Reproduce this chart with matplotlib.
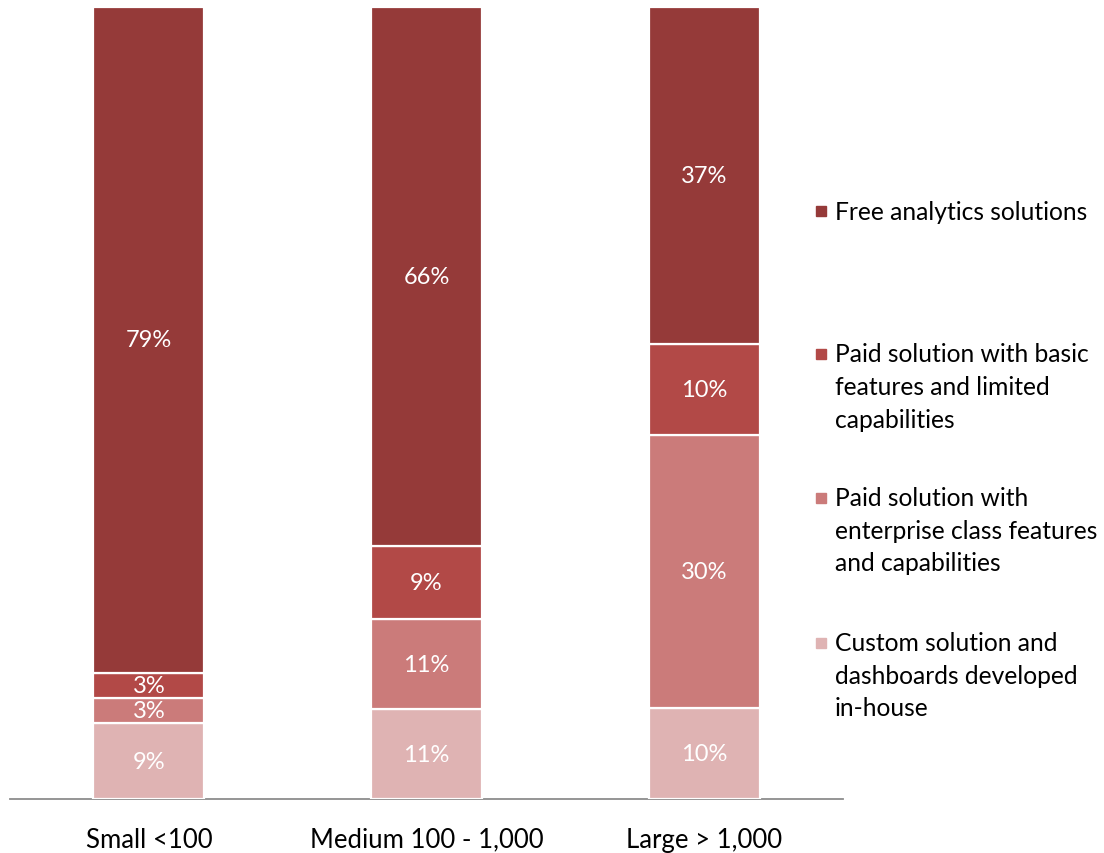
import matplotlib
matplotlib.use("Agg")
import matplotlib.pyplot as plt
from matplotlib.patches import Rectangle
import numpy as np

plt.rcParams['font.family'] = ['Lato', 'DejaVu Sans']

categories = ["Small <100", "Medium 100 - 1,000", "Large > 1,000"]
series_names = [
    "Custom solution and\ndashboards developed\nin-house",
    "Paid solution with\nenterprise class features\nand capabilities",
    "Paid solution with basic\nfeatures and limited\ncapabilities",
    "Free analytics solutions",
]
custom_inhouse = [9, 11, 10]
paid_enterprise = [3, 11, 30]
paid_basic = [3, 9, 10]
free_solutions = [79, 66, 37]
colors = ["#DFB3B3", "#CB7B7A", "#B24947", "#953A39"]

series = [custom_inhouse, paid_enterprise, paid_basic, free_solutions]
totals = np.sum(np.array(series, dtype=float), axis=0)

fig = plt.figure(figsize=(11.04, 8.54), dpi=100)
ax = fig.add_axes([10/1104, 1-800/854, (843-10)/1104, (800-8)/854])

x = np.arange(len(categories))
bottom = np.zeros(len(categories))
for vals, col in zip(series, colors):
    frac = np.array(vals, dtype=float) / totals
    ax.bar(x, frac, width=0.4, bottom=bottom, color=col,
           edgecolor="white", linewidth=1.6, zorder=3)
    for xi, b, f, v in zip(x, bottom, frac, vals):
        ax.text(xi, b + f/2, f"{v}%", ha="center", va="center",
                color="white", fontsize=17, zorder=4)
    bottom += frac

ax.set_xlim(-0.5, 2.5)
ax.set_ylim(0, 1)
for s in ["top", "right", "left"]:
    ax.spines[s].set_visible(False)
ax.spines["bottom"].set_color("#8c8c8c")
ax.spines["bottom"].set_linewidth(1.3)
ax.set_yticks([])
ax.set_xticks(x)
ax.set_xticklabels(categories, fontsize=18.5, color="black")
ax.tick_params(axis="x", length=0, pad=20)

# legend (manual, Excel-like vertical distribution)
leg_y = [212, 355, 499, 644]  # pixel centers of first line (top-down)
order = [3, 2, 1, 0]
for yy, idx in zip(leg_y, order):
    fy = 1 - yy/854
    fig.add_artist(Rectangle((816/1104, fy - 5/854), 10/1104, 10/854,
                             transform=fig.transFigure, color=colors[idx]))
    fig.text(835/1104, fy + 11.5/854, series_names[idx], ha="left", va="top",
             fontsize=17.7, linespacing=1.5, color="black")

fig.savefig("out.png", dpi=100)
